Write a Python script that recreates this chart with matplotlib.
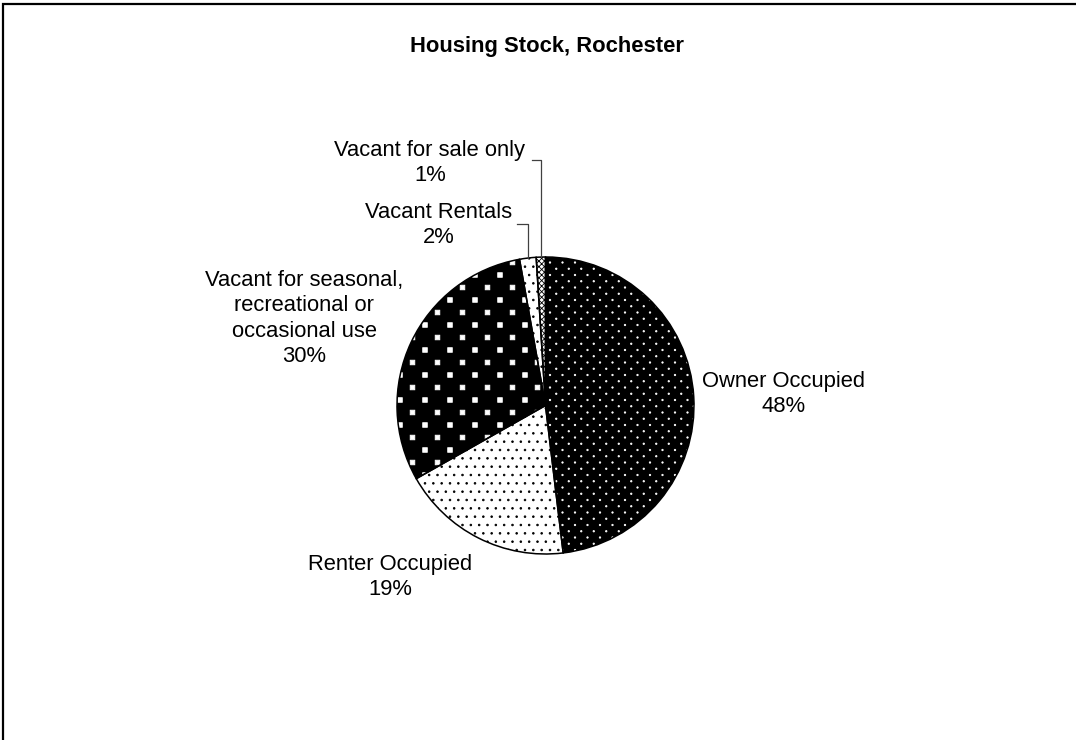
import numpy as np
import matplotlib
matplotlib.use("Agg")
import matplotlib.pyplot as plt
from matplotlib import hatch as mhatch
from matplotlib.path import Path


# chart data
title = "Housing Stock, Rochester"
categories = [
    "Owner Occupied",
    "Renter Occupied",
    "Vacant for seasonal,\nrecreational or\noccasional use",
    "Vacant Rentals",
    "Vacant for sale only",
]
shares = [48.1, 18.7, 30.4, 1.8, 1.0]


# looks of each slice (fill, pattern colour, pattern)
face_cols = ["black", "white", "black", "white", "white"]
patt_cols = ["white", "black", "white", "black", "black"]
patterns = ["o", "..", "*", "..", "xxxxxx"]

# where each label's last baseline sits (pixels, from top-left)
label_pos = [(783.5, 412), (390.5, 595), (304, 362), (439, 243), (430, 181)]
# labels that get a leader line: index -> start of the elbow
leaders = {3: (517, 224), 4: (532, 160)}

W, H = 1076, 740
pie_c = (545.5, H - 405.5)
pie_r = 148.5


# staggered lattice hatch (rows n per tile, columns every 2/n)
class Lattice(mhatch.HatchPatternBase):
    char = "*"
    rows = 8
    half = 0.023
    square = True

    def __init__(self, hatch, density):
        n = hatch.count(self.char) * self.rows
        pts = []
        if n:
            for r in range(n + 1):
                shift = 0.0 if r % 2 == 0 else 1.0 / n
                for c in np.arange(shift, 1.0 + 1e-9, 2.0 / n):
                    pts.append((c, r / n))
        self.centres = np.array(pts).reshape(-1, 2)
        shape = Path.unit_rectangle() if self.square else Path.unit_circle()
        v = shape.vertices
        if self.square:
            v = (v - 0.5) * 2
        self.shape_vertices = v * self.half
        self.shape_codes = shape.codes
        self.num_vertices = len(self.centres) * len(self.shape_vertices)

    def set_vertices_and_codes(self, vertices, codes):
        vertices[:] = np.concatenate([self.shape_vertices + c for c in self.centres])
        codes[:] = np.tile(self.shape_codes, len(self.centres))


class SquareLattice(Lattice):
    pass


class DotLattice(Lattice):
    char = "o"
    rows = 16
    half = 0.007
    square = False


mhatch._hatch_types = [
    DotLattice if t is mhatch.SmallCircles else
    SquareLattice if t is mhatch.Stars else t
    for t in mhatch._hatch_types
]


plt.rcParams["font.family"] = ["Liberation Sans", "DejaVu Sans"]
plt.rcParams["hatch.linewidth"] = 0.6
fs = 15.8

fig = plt.figure(figsize=(W / 100, H / 100), dpi=100)
ax = fig.add_axes([0, 0, 1, 1])

# filled, patterned wedges
wedges, _ = ax.pie(shares, startangle=90, counterclock=False,
                   center=pie_c, radius=pie_r, frame=True,
                   wedgeprops=dict(linewidth=0))
for w, fc, pc, hp in zip(wedges, face_cols, patt_cols, patterns):
    w.set_facecolor(fc)
    w.set_edgecolor(pc)
    w.set_hatch(hp)

# outlines on top
ax.pie(shares, startangle=90, counterclock=False,
       center=pie_c, radius=pie_r, frame=True,
       wedgeprops=dict(fill=False, edgecolor="black", linewidth=1.1))

total = sum(shares)
for i, (name, val) in enumerate(zip(categories, shares)):
    x, y = label_pos[i]
    ax.text(x, H - y, f"{name}\n{round(val / total * 100):.0f}%",
            ha="center", va="baseline", multialignment="center",
            linespacing=1.27, fontsize=fs, color="black")

# elbow leader lines for the thin slices
for i, (sx, sy) in leaders.items():
    w = wedges[i]
    mid = np.deg2rad((w.theta1 + w.theta2) / 2)
    ex = pie_c[0] + pie_r * np.cos(mid)
    ey = pie_c[1] + pie_r * np.sin(mid)
    ax.plot([sx, ex, ex], [H - sy, H - sy, ey], color="#404040", lw=0.9)

ax.text(546.5, H - 52, title, ha="center", va="baseline",
        fontsize=fs, fontweight="bold")

# chart border (top and left only are inside the picture)
ax.plot([3, 3, W], [0, H - 4, H - 4], color="black", lw=1.6,
        solid_joinstyle="miter")

ax.set_xlim(0, W)
ax.set_ylim(0, H)
ax.set_aspect("equal")
ax.axis("off")

fig.savefig("out.png", dpi=100, facecolor="white")
